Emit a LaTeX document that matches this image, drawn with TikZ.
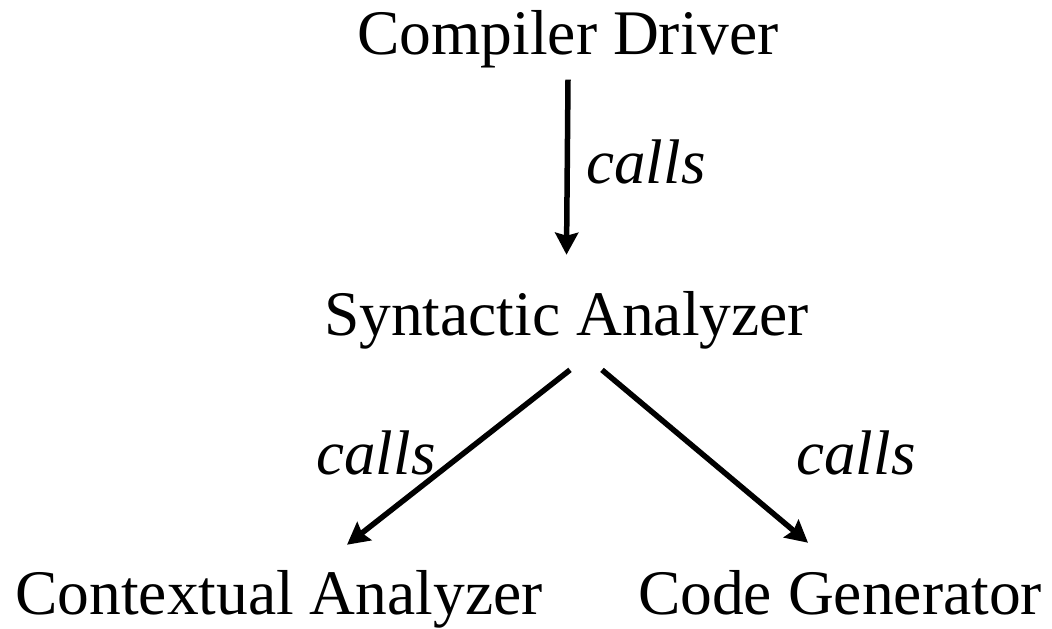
\documentclass[tikz,border=0pt]{standalone}
\usepackage{fontspec}
\setmainfont{Liberation Serif}
\usetikzlibrary{arrows.meta}
\begin{document}
\begin{tikzpicture}[x=1pt,y=1pt,
  module/.style={anchor=base,inner sep=0pt,font=\fontsize{63.5}{70}\selectfont},
  rel/.style={anchor=base,inner sep=0pt,font=\fontsize{63}{70}\selectfont\itshape},
  callarrow/.style={line width=5.5pt,-{Stealth[length=22pt,width=23pt,inset=3pt]}}]
\useasboundingbox (0,0) rectangle (1052,629);
% modules
\node[module] (cd) at (568,574) {Compiler Driver};
\node[module] (sa) at (566.5,293) {Syntactic Analyzer};
\node[module] (ca) at (279,14) {Contextual Analyzer};
\node[module] (cg) at (840,14) {Code Generator};
% relation labels
\node[rel] (l1) at (646,445) {calls};
\node[rel] (l2) at (376,154) {calls};
\node[rel] (l3) at (856,154) {calls};
% call arrows
\draw[callarrow] ([yshift=-11pt]cd.south) -- ([yshift=37pt]sa.north);
\draw[callarrow] ([xshift=3.5pt,yshift=-20pt]sa.south) -- ([xshift=68pt,yshift=26pt]ca.north);
\draw[callarrow] ([xshift=35.5pt,yshift=-20pt]sa.south) -- ([xshift=-32pt,yshift=28pt]cg.north);
\end{tikzpicture}
\end{document}
